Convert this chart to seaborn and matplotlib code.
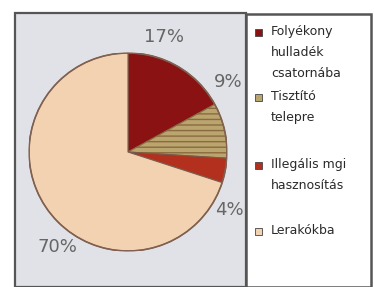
import matplotlib
matplotlib.use("Agg")
import matplotlib.pyplot as plt
from matplotlib.patches import Rectangle
import seaborn as sns

categories = ["Folyékony\nhulladék\ncsatornába", "Tisztító\ntelepre",
              "Illegális mgi\nhasznosítás", "Lerakókba"]
values = [17, 9, 4, 70]
pct_labels = ["17%", "9%", "4%", "70%"]
colors = ["#8a1212", "#bba56f", "#b3301e", "#f2d2b0"]

sns.set_theme(style="white")
plt.rcParams['font.family'] = ['DejaVu Sans']

W, H = 374, 287
fig = plt.figure(figsize=(W / 100, H / 100), dpi=100)
fig.patch.set_facecolor("white")

def fx(px):
    return px / W

def fy(py):
    return 1 - py / H

# plot area background
fig.add_artist(Rectangle((fx(15), 0), fx(246) - fx(15), fy(13), transform=fig.transFigure,
                         facecolor="#e1e2e7", edgecolor="#555555", linewidth=1.6, zorder=0))

# pie
r = 99
cx, cy = 128, 152
ax = fig.add_axes([fx(cx - r), fy(cy + r), 2 * r / W, 2 * r / H])
wedges, _ = ax.pie(values, colors=colors, startangle=90, counterclock=False,
                   wedgeprops=dict(edgecolor="#7a5a4a", linewidth=0.8))
wedges[1].set_hatch("---")
wedges[1].set_edgecolor("#8a6a40")
ax.add_patch(plt.Circle((0, 0), 1.0, fill=False, edgecolor="#806050", linewidth=1.2))
ax.set_xlim(-1, 1)
ax.set_ylim(-1, 1)
ax.set_aspect("auto")
ax.axis("off")

label_pos = [(164, 37), (228, 82), (229, 210), (57, 247)]
for (px, py), t in zip(label_pos, pct_labels):
    fig.text(fx(px), fy(py), t, ha="center", va="center", fontsize=13, color="#666666")

# legend box
fig.add_artist(Rectangle((fx(246), 0), fx(371) - fx(246), fy(14), transform=fig.transFigure,
                         facecolor="white", edgecolor="#555555", linewidth=1.8, zorder=0.5))
entry_y = [32, 97, 165, 231]
for y, lab, c in zip(entry_y, categories, colors):
    fig.add_artist(Rectangle((fx(255), fy(y + 4)), 7 / W, 7 / H, transform=fig.transFigure,
                             facecolor=c, edgecolor="#444444", linewidth=0.6, zorder=2))
    fig.text(fx(271), fy(y - 7), lab, ha="left", va="top", fontsize=9, color="#2a2a2a",
             linespacing=1.8)

fig.savefig("out.png", dpi=100)
